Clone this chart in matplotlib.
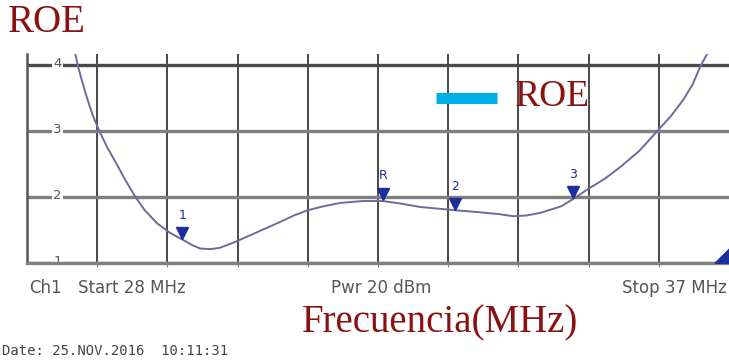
import matplotlib.pyplot as plt
import numpy as np

# ROE (VSWR) trace, 28-37 MHz
freq = [28.62, 28.65, 28.71, 28.77, 28.84, 28.92, 29.03, 29.15, 29.26, 29.38,
        29.51, 29.67, 29.83, 30.00, 30.12, 30.22, 30.35, 30.47, 30.65, 30.86,
        31.05, 31.24, 31.42, 31.60, 31.80, 32.01, 32.30, 32.56, 32.80, 33.04,
        33.49, 33.80, 34.06, 34.23, 34.40, 34.58, 34.85, 35.00, 35.19, 35.41,
        35.60, 35.85, 36.08, 36.25, 36.41, 36.53, 36.64, 36.72]
roe = [4.17, 4.00, 3.74, 3.50, 3.25, 3.02, 2.75, 2.50, 2.26, 2.02,
       1.80, 1.60, 1.46, 1.35, 1.27, 1.22, 1.21, 1.23, 1.31, 1.42,
       1.52, 1.62, 1.72, 1.80, 1.86, 1.91, 1.94, 1.94, 1.90, 1.85,
       1.80, 1.77, 1.74, 1.71, 1.72, 1.76, 1.86, 1.97, 2.12, 2.28,
       2.45, 2.70, 3.00, 3.22, 3.47, 3.70, 4.00, 4.17]

marker_names = ['1', 'R', '2', '3']
marker_freq = [29.99, 32.56, 33.49, 35.00]
marker_roe = [1.36, 1.96, 1.80, 1.98]

y_ticks = [1, 2, 3, 4]
x_grid = np.linspace(28, 37, 11)

RED = '#8b1010'
TRACE = '#6a6c9c'
GRID = '#7f7f7f'
TXT = '#555555'
MARK = '#1c2f9a'

fig = plt.figure(figsize=(7.29, 3.61), dpi=100, facecolor='white')
ax = fig.add_axes([27 / 729, 1 - 263 / 361, 1 - 27 / 729, (263 - 54) / 361])
ax.set_xlim(28, 37)
ax.set_ylim(1, 4.17)

# grid
for xv in x_grid[1:-1]:
    ax.axvline(xv, color='#3a3a3a', lw=1.3, zorder=1)
for yv in y_ticks:
    ax.axhline(yv, color='#4a4a4a' if yv == 4 else GRID, lw=2.4, zorder=1)
for yv in y_ticks:
    ax.text(28.39, yv + 0.02, str(yv), fontsize=9.5, color=TXT, ha='center',
            va='center', zorder=2,
            bbox=dict(facecolor='white', edgecolor='none', pad=1.0))

for s in ['top', 'right']:
    ax.spines[s].set_visible(False)
ax.spines['left'].set_color('#555555')
ax.spines['left'].set_linewidth(1.8)
ax.spines['bottom'].set_color(GRID)
ax.spines['bottom'].set_linewidth(2.4)
ax.set_xticks(x_grid[1:-1])
ax.set_xticklabels([])
ax.set_yticks([])
ax.tick_params(axis='x', direction='out', length=3, color=GRID)

# trace and markers
ax.plot(freq, roe, color=TRACE, lw=1.4, zorder=3)
ax.plot(marker_freq, [r + 0.09 for r in marker_roe], 'v', color=MARK, ms=8, zorder=4)
for name, f, r in zip(marker_names, marker_freq, marker_roe):
    ax.text(f, r + 0.36, name, fontsize=9, color=MARK, ha='center', va='center',
            zorder=4)
ref_marker = [(-1, 0), (0, 0), (0, 1), (-1, 0)]
ax.plot([37], [1], marker=ref_marker, color=MARK, ms=21, zorder=4)

# legend-like label inside plot
ax.plot([33.24, 34.03], [3.5, 3.5], color='#00aee8', lw=8, solid_capstyle='butt')
ax.text(34.25, 3.52, 'ROE', fontsize=27, color=RED, family='Liberation Serif',
        va='center', ha='left')

# screen annotations
fig.text(8 / 729, 1 - 22 / 361, 'ROE', fontsize=28, color=RED,
         family='Liberation Serif', va='center')
fig.text(29 / 729, 1 - 288 / 361, 'Ch1', fontsize=12, color=TXT, va='center')
fig.text(78 / 729, 1 - 288 / 361, 'Start 28 MHz', fontsize=12, color=TXT, va='center')
fig.text(331 / 729, 1 - 288 / 361, 'Pwr 20 dBm', fontsize=12, color=TXT, va='center')
fig.text(727 / 729, 1 - 288 / 361, 'Stop 37 MHz', fontsize=12, color=TXT,
         va='center', ha='right')
fig.text(440 / 729, 1 - 323 / 361, 'Frecuencia(MHz)', fontsize=28, color=RED,
         family='Liberation Serif', va='center', ha='center')
fig.text(2 / 729, 1 - 351 / 361, 'Date: 25.NOV.2016  10:11:31', fontsize=10,
         color='#444444', family='DejaVu Sans Mono', va='center')

fig.savefig('out.png', dpi=100, facecolor='white')
